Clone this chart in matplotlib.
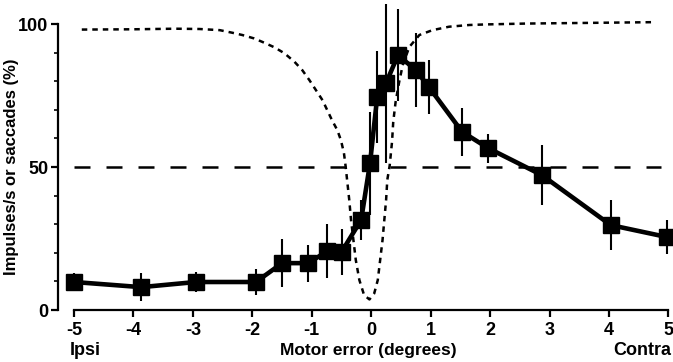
import matplotlib
matplotlib.use("Agg")
import matplotlib.pyplot as plt
from matplotlib.ticker import MultipleLocator

# motor error (deg), firing rate (% of max) and error bars
error_deg = [-5.0, -3.87, -2.95, -1.94, -1.5, -1.06, -0.74, -0.5, -0.17, -0.02,
             0.1, 0.25, 0.45, 0.75, 0.97, 1.53, 1.97, 2.87, 4.03, 4.98]
rate = [9.8, 8.0, 9.8, 9.8, 16.4, 16.4, 20.6, 20.3, 31.5, 51.4,
        74.5, 79.4, 89.2, 83.9, 78.0, 62.3, 56.6, 47.2, 29.7, 25.5]
rate_err = [3, 5, 3.5, 4.5, 8.5, 6.5, 9.5, 8, 7, 18,
            16, 28, 16, 13, 9.5, 8.5, 5, 10.5, 8.7, 6]

# saccade probability curve (dotted)
curve_x = [-4.87, -4.0, -3.3, -2.89, -2.55, -2.34, -2.17, -1.97, -1.80, -1.63,
           -1.46, -1.29, -1.16, -1.04, -0.93, -0.82, -0.74, -0.66, -0.57, -0.51,
           -0.46, -0.43, -0.37, -0.34, -0.30, -0.26, -0.20, -0.12, -0.03, 0.05,
           0.11, 0.15, 0.19, 0.22, 0.25, 0.27, 0.31, 0.35, 0.37, 0.41,
           0.47, 0.53, 0.64, 0.81, 1.03, 1.31, 1.65, 1.93, 2.6, 3.5, 4.79]
curve_y = [98.1, 98.2, 98.4, 98.3, 97.9, 97.0, 96.2, 95.0, 93.5, 91.9,
           89.8, 86.8, 83.9, 80.4, 76.9, 73.4, 69.9, 66.4, 62.9, 59.4,
           55.0, 50.1, 38.5, 31.5, 24.5, 17.5, 10.5, 5.2, 3.7, 5.8,
           10.5, 17.5, 24.5, 31.5, 38.5, 45.5, 50.5, 58.9, 65.8, 72.8,
           79.8, 85.7, 92.0, 96.2, 97.9, 99.1, 99.7, 99.9, 100.2, 100.4, 100.7]

# 50% threshold, drawn outside the dip of the curve
threshold = 50
threshold_segments = [(-5.0, -0.43), (0.31, 4.87)]

x_ticks = [-5, -4, -3, -2, -1, 0, 1, 2, 3, 4, 5]
y_ticks = [0, 50, 100]

plt.rcParams['font.family'] = ['Liberation Sans', 'DejaVu Sans']
plt.rcParams['font.weight'] = 'bold'

fig = plt.figure(figsize=(6.73, 3.62), dpi=100)
ax = fig.add_axes([0.0862, 0.1436, 0.9123, 0.845])

ax.plot(curve_x, curve_y, color='black', lw=1.8, linestyle=(0, (2.2, 2.0)))
for x0, x1 in threshold_segments:
    ax.plot([x0, x1], [threshold, threshold], color='black', lw=1.8,
            linestyle=(0, (6.4, 6.4)))
ax.errorbar(error_deg, rate, yerr=rate_err, color='black', lw=3.3, marker='s',
            markersize=11, elinewidth=1.5, capsize=0)

ax.set_xlim(-5.27, 5.06)
ax.set_ylim(0, 107)
ax.spines['top'].set_visible(False)
ax.spines['right'].set_visible(False)
ax.spines['left'].set_bounds(0, 100)
ax.spines['bottom'].set_bounds(-5, 5)
ax.spines['left'].set_linewidth(1.6)
ax.spines['bottom'].set_linewidth(1.6)

ax.set_xticks(x_ticks)
ax.set_xticklabels([str(t) for t in x_ticks])
ax.set_yticks(y_ticks)
ax.yaxis.set_minor_locator(MultipleLocator(10))
ax.tick_params(axis='both', which='major', length=5, width=1.6, labelsize=13)
ax.tick_params(axis='y', which='minor', length=3, width=1.2)
ax.tick_params(axis='y', pad=2)

ax.set_ylabel('Impulses/s or saccades (%)', fontsize=12, fontweight='bold')
ax.yaxis.set_label_coords(-0.064, 0.467)
fig.text(0.104, 0.033, 'Ipsi', ha='left', va='center', fontsize=13)
fig.text(0.547, 0.033, 'Motor error (degrees)', ha='center', va='center', fontsize=12.5)
fig.text(0.997, 0.033, 'Contra', ha='right', va='center', fontsize=13)

fig.savefig('out.png', dpi=100)
